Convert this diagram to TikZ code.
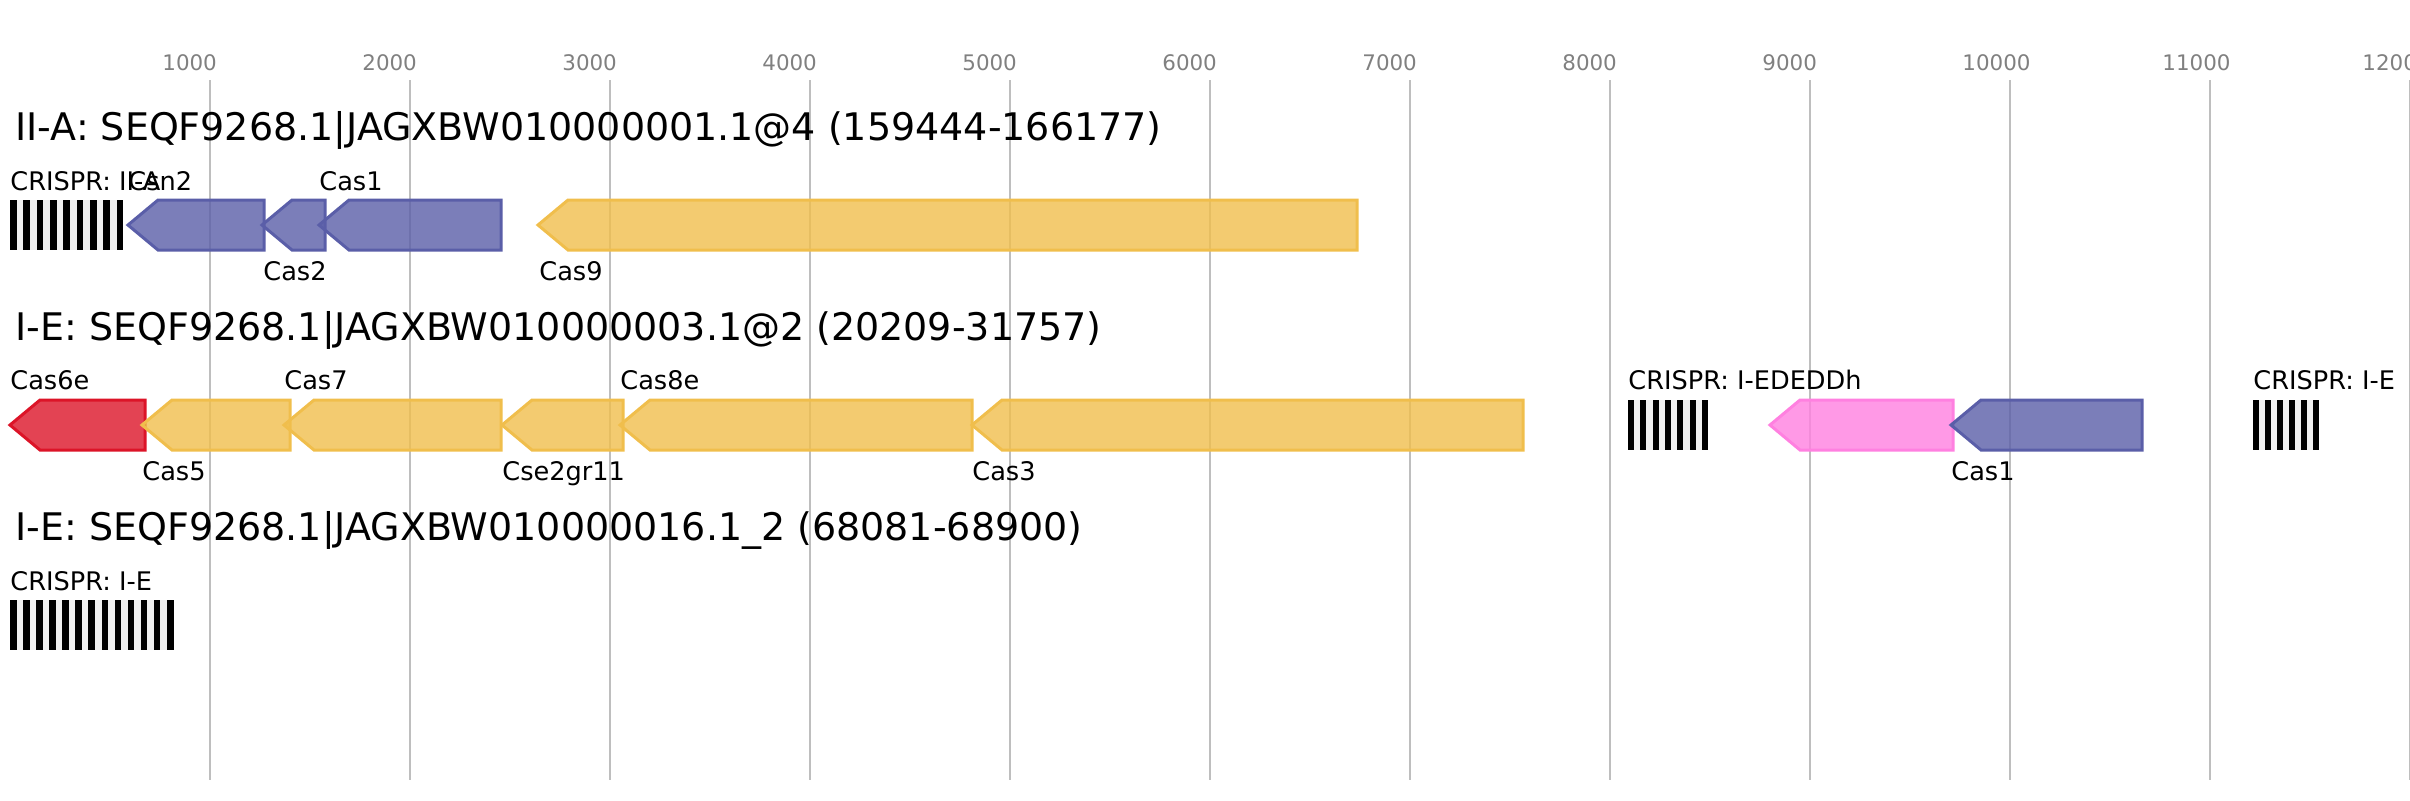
\documentclass[tikz,border=0pt]{standalone}
\usepackage{fontspec}
\setmainfont{DejaVu Sans}
\usepackage{xcolor}
\usetikzlibrary{positioning}

\definecolor{casblue}{RGB}{90,94,168}
\definecolor{casyellow}{RGB}{240,190,76}
\definecolor{casred}{RGB}{220,20,40}
\definecolor{caspink}{RGB}{255,128,224}
\definecolor{gridgrey}{RGB}{190,190,190}
\definecolor{tickgrey}{RGB}{128,128,128}
\definecolor{spacergrey}{RGB}{240,240,240}

\begin{document}
\begin{tikzpicture}[x=0.5pt,y=-0.5pt,
  gridline/.style={draw=gridgrey, line width=1pt},
  ticklabel/.style={text=tickgrey, font=\fontsize{10.7}{12}\selectfont, anchor=base west, inner sep=0pt},
  rowtitle/.style={font=\fontsize{19}{22}\selectfont, anchor=base west, inner sep=0pt},
  genelabel/.style={font=\fontsize{12.8}{15}\selectfont, anchor=base west, inner sep=0pt},
  gene/.style={line width=1.5pt, line join=miter, fill opacity=0.8},
  bluegene/.style={gene, draw=casblue, fill=casblue},
  yellowgene/.style={gene, draw=casyellow, fill=casyellow},
  redgene/.style={gene, draw=casred, fill=casred},
  pinkgene/.style={gene, draw=caspink, fill=caspink}]
\useasboundingbox (0,0) rectangle (2410,800);

%Grid: ruler lines and tick labels
\foreach \k in {1,...,12}{
  \draw[gridline] ({10+200*\k},80) -- ({10+200*\k},780);
  \node[ticklabel] (tick\k) at ({10+200*\k-48},70) {\the\numexpr\k*1000\relax};
}

% Text Node
\node[rowtitle] (titleA) at (15,140) {II-A: SEQF9268.1|JAGXBW010000001.1@4 (159444-166177)};
% Text Node
\node[rowtitle] (titleB) at (15,340) {I-E: SEQF9268.1|JAGXBW010000003.1@2 (20209-31757)};
% Text Node
\node[rowtitle] (titleC) at (15,540) {I-E: SEQF9268.1|JAGXBW010000016.1\_2 (68081-68900)};

%Shape: CRISPR array, row 1
\fill[spacergrey] (10,200) rectangle (123.3,250);
\foreach \i in {0,...,8}
  \fill[black] ({10+13.33*\i},200) rectangle ({16.67+13.33*\i},250);
%Shape: Gene Arrow [Csn2]
\draw[bluegene] (128,225) -- (158,200) -- (264,200) -- (264,250) -- (158,250) -- cycle;
%Shape: Gene Arrow [Cas2]
\draw[bluegene] (262,225) -- (292,200) -- (325,200) -- (325,250) -- (292,250) -- cycle;
%Shape: Gene Arrow [Cas1]
\draw[bluegene] (319,225) -- (349,200) -- (501,200) -- (501,250) -- (349,250) -- cycle;
%Shape: Gene Arrow [Cas9]
\draw[yellowgene] (538,225) -- (568,200) -- (1357,200) -- (1357,250) -- (568,250) -- cycle;

% Text Node
\node[genelabel] (crisprA) at (10,190) {CRISPR: II-A};
\node[genelabel] (csn2) at (128,190) {Csn2};
\node[genelabel] (cas2A) at (263,280) {Cas2};
\node[genelabel] (cas1A) at (319,190) {Cas1};
\node[genelabel] (cas9) at (539,280) {Cas9};

%Shape: Gene Arrow [Cas6e]
\draw[redgene] (10,425) -- (40,400) -- (145,400) -- (145,450) -- (40,450) -- cycle;
%Shape: Gene Arrow [Cas5]
\draw[yellowgene] (142,425) -- (172,400) -- (290,400) -- (290,450) -- (172,450) -- cycle;
%Shape: Gene Arrow [Cas7]
\draw[yellowgene] (284,425) -- (314,400) -- (501,400) -- (501,450) -- (314,450) -- cycle;
%Shape: Gene Arrow [Cse2gr11]
\draw[yellowgene] (502,425) -- (532,400) -- (623,400) -- (623,450) -- (532,450) -- cycle;
%Shape: Gene Arrow [Cas8e]
\draw[yellowgene] (620,425) -- (650,400) -- (972,400) -- (972,450) -- (650,450) -- cycle;
%Shape: Gene Arrow [Cas3]
\draw[yellowgene] (972,425) -- (1002,400) -- (1523,400) -- (1523,450) -- (1002,450) -- cycle;
%Shape: CRISPR array, row 2 left
\fill[spacergrey] (1628,400) rectangle (1708,450);
\foreach \i in {0,...,6}
  \fill[black] ({1628+12.3*\i},400) rectangle ({1634.15+12.3*\i},450);
%Shape: Gene Arrow [pink]
\draw[pinkgene] (1770,425) -- (1800,400) -- (1953,400) -- (1953,450) -- (1800,450) -- cycle;
%Shape: Gene Arrow [Cas1]
\draw[bluegene] (1951,425) -- (1981,400) -- (2142,400) -- (2142,450) -- (1981,450) -- cycle;
%Shape: CRISPR array, row 2 right
\fill[spacergrey] (2253,400) rectangle (2319,450);
\foreach \i in {0,...,5}
  \fill[black] ({2253+12*\i},400) rectangle ({2259+12*\i},450);

% Text Node
\node[genelabel] (cas6e) at (10,389) {Cas6e};
\node[genelabel] (cas5) at (142,480) {Cas5};
\node[genelabel] (cas7) at (284,389) {Cas7};
\node[genelabel] (cse2) at (502,480) {Cse2gr11};
\node[genelabel] (cas8e) at (620,389) {Cas8e};
\node[genelabel] (cas3) at (972,480) {Cas3};
\node[genelabel] (crisprB) at (1628,389) {CRISPR: I-EDEDDh};
\node[genelabel] (cas1B) at (1951,480) {Cas1};
\node[genelabel] (crisprC) at (2253,389) {CRISPR: I-E};

%Shape: CRISPR array, row 3
\fill[spacergrey] (10,600) rectangle (173.5,650);
\foreach \i in {0,...,12}
  \fill[black] ({10+13.08*\i},600) rectangle ({16.54+13.08*\i},650);
% Text Node
\node[genelabel] (crisprD) at (10,590) {CRISPR: I-E};

\end{tikzpicture}
\end{document}
